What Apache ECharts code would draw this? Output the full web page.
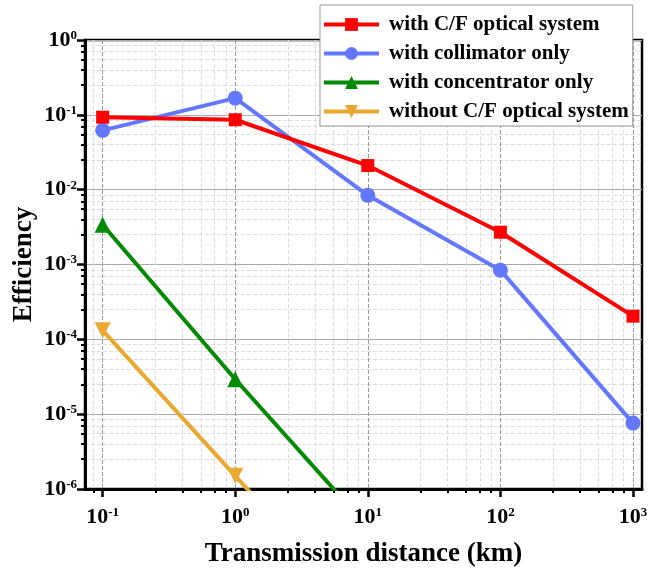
<!DOCTYPE html>
<html><head><meta charset="utf-8">
<script src="https://cdn.jsdelivr.net/npm/echarts@6/dist/echarts.min.js"></script>
<style>html,body{margin:0;padding:0;background:#fff}#c{width:648px;height:573px}</style>
</head><body><div id="c"></div>
<script>
const distances = [0.1, 1, 10, 100, 1000];
const withCF = [0.093, 0.086, 0.021, 0.0027, 0.000204];
const collimatorOnly = [0.062, 0.167, 0.0084, 0.00084, 0.0000076];
const concentratorOnly = [0.0034, 0.0000293, 0.00000031];
const withoutCF = [0.000132, 0.0000015, 0.000000017];
const xTicks = [0.1, 1, 10, 100, 1000];
const yTicks = [1e-6, 1e-5, 1e-4, 1e-3, 1e-2, 1e-1, 1];
const seriesNames = ['with C/F optical system', 'with collimator only', 'with concentrator only', 'without C/F optical system'];
const colors = ['#FF0000', '#6478FF', '#008A00', '#E9A830'];

const FONT = 'Liberation Serif';
function pair(xs, ys) { return ys.map((v, i) => [xs[i], v]); }
function powLabel(v) {
  const e = Math.round(Math.log10(v));
  return '{b|10}{s|' + e + '}';
}
const labelRich = {
  b: { fontFamily: FONT, fontWeight: 'bold', fontSize: 22, color: '#000' },
  s: { fontFamily: FONT, fontWeight: 'bold', fontSize: 13, color: '#000', verticalAlign: 'top', padding: [0, 0, 9, 0] }
};

const chart = echarts.init(document.getElementById('c'), null, { renderer: 'canvas' });
chart.setOption({
  animation: false,
  backgroundColor: '#fff',
  grid: { left: 85, right: 6, top: 40, bottom: 84, outerBoundsMode: 'none', containLabel: false, show: true, borderColor: '#000', borderWidth: 2.5, backgroundColor: 'transparent' },
  legend: {
    orient: 'vertical', left: 320, top: 5,
    backgroundColor: '#fff', borderColor: '#999', borderWidth: 1,
    padding: [9, 4, 4, 2], itemGap: 8, itemWidth: 55, itemHeight: 16,
    lineStyle: { width: 4 },
    textStyle: { fontFamily: FONT, fontWeight: 'bold', fontSize: 21, color: '#000', padding: [0, 0, 0, 5] },
    data: seriesNames, z: 10
  },
  xAxis: {
    type: 'log', logBase: 10,
    min: Math.pow(10, -1.133), max: Math.pow(10, 3.068),
    name: 'Transmission distance (km)', nameLocation: 'middle', nameGap: 52,
    nameTextStyle: { fontFamily: FONT, fontWeight: 'bold', fontSize: 27, color: '#000' },
    axisLine: { show: true, lineStyle: { color: '#000', width: 3 } },
    axisTick: { show: true, customValues: xTicks, length: 8, lineStyle: { color: '#000', width: 2.5 } },
    minorTick: { show: true, splitNumber: 6, length: 4, lineStyle: { color: '#000', width: 2 } },
    axisLabel: { customValues: xTicks, formatter: powLabel, rich: labelRich, margin: 17 },
    splitLine: { show: true, lineStyle: { color: '#999', type: 'dashed', width: 1 } },
    minorSplitLine: { show: true, lineStyle: { color: '#ddd', type: 'dashed', width: 1 } }
  },
  yAxis: {
    type: 'log', logBase: 10, min: 1e-6, max: 1,
    name: 'Efficiency', nameLocation: 'middle', nameGap: 47, nameMoveOverlap: false,
    nameTextStyle: { fontFamily: FONT, fontWeight: 'bold', fontSize: 27, color: '#000' },
    axisLine: { show: true, lineStyle: { color: '#000', width: 3 } },
    axisTick: { show: true, customValues: yTicks, length: 8, lineStyle: { color: '#000', width: 2.5 } },
    minorTick: { show: true, splitNumber: 6, length: 4, lineStyle: { color: '#000', width: 2 } },
    axisLabel: { customValues: yTicks, formatter: powLabel, rich: labelRich, margin: 8 },
    splitLine: { show: true, lineStyle: { color: '#aaa', type: 'solid', width: 1 } },
    minorSplitLine: { show: true, lineStyle: { color: '#ddd', type: 'dashed', width: 1 } }
  },
  series: [
    { name: seriesNames[0], type: 'line', data: pair(distances, withCF), color: colors[0], symbol: 'rect', symbolSize: 13, lineStyle: { width: 4 }, clip: true, z: 5 },
    { name: seriesNames[1], type: 'line', data: pair(distances, collimatorOnly), color: colors[1], symbol: 'circle', symbolSize: 15, lineStyle: { width: 4 }, clip: true, z: 4 },
    { name: seriesNames[2], type: 'line', data: pair(distances, concentratorOnly), color: colors[2], symbol: 'triangle', symbolSize: 16, lineStyle: { width: 4 }, clip: true, z: 3 },
    { name: seriesNames[3], type: 'line', data: pair(distances, withoutCF), color: colors[3], symbol: 'triangle', symbolRotate: 180, symbolSize: 16, lineStyle: { width: 4 }, clip: true, z: 2 }
  ]
});
</script></body></html>
